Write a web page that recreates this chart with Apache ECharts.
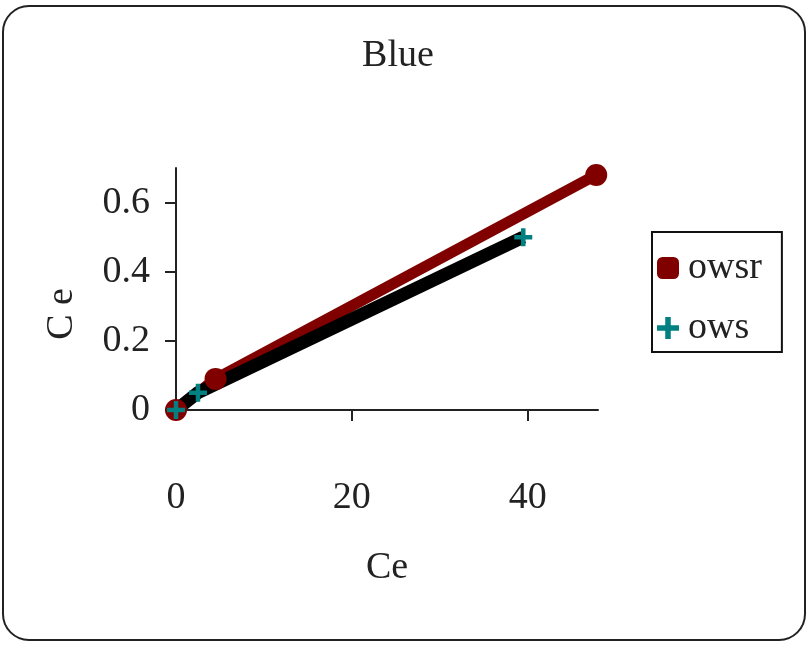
<!DOCTYPE html>
<html>
<head>
<meta charset="utf-8">
<script src="https://cdn.jsdelivr.net/npm/echarts@6/dist/echarts.min.js"></script>
<style>
  html, body { margin: 0; padding: 0; background: #fff; }
  #chart { width: 811px; height: 646px; }
</style>
</head>
<body>
<div id="chart"></div>
<script>
// values
const owsrX = [0, 4.5, 47.8];
const owsrY = [0, 0.09, 0.68];
const owsX = [0, 2.5, 39.5];
const owsY = [0, 0.05, 0.5];
const xTicks = [0, 20, 40];
const yTicks = [0, 0.2, 0.4, 0.6];

const font = 'Liberation Serif';
const fs = 38;
const txt = '#222';
const crossPath = 'path://M3,0 H5 V3 H8 V5 H5 V8 H3 V5 H0 V3 H3 Z';

let chart = echarts.init(document.getElementById('chart'));
chart.setOption({
  backgroundColor: '#fff',
  animation: false,
  title: {
    text: 'Blue',
    left: 393,
    top: 32,
    textAlign: 'center',
    textStyle: { fontFamily: font, fontSize: fs, fontWeight: 'normal', color: txt }
  },
  graphic: [
    {
      type: 'rect',
      shape: { x: 3, y: 6, width: 802, height: 634, r: 26 },
      style: { fill: 'none', stroke: '#222', lineWidth: 2 },
      z: -1
    },
    {
      type: 'text',
      x: 62,
      y: 314,
      rotation: Math.PI / 2,
      style: {
        text: 'C e', fontFamily: font, fontSize: fs, fill: txt,
        align: 'center', verticalAlign: 'middle'
      }
    }
  ],
  legend: {
    orient: 'vertical',
    left: 652,
    top: 232,
    borderColor: '#111',
    borderWidth: 2,
    padding: [17, 20, 5, 5],
    itemWidth: 22,
    itemHeight: 22,
    itemGap: 22,
    textStyle: { fontFamily: font, fontSize: fs, lineHeight: 38, color: txt, padding: [0, 0, 0, 4] },
    data: [
      { name: 'owsr', icon: 'roundRect', itemStyle: { color: '#800000' } },
      { name: 'ows', icon: crossPath, itemStyle: { color: '#008080' } }
    ]
  },
  grid: { left: 176, right: 213, top: 168, bottom: 236 },
  xAxis: {
    type: 'value',
    min: 0,
    max: 48,
    interval: 20,
    name: 'Ce',
    nameLocation: 'middle',
    nameGap: 139,
    nameTextStyle: { fontFamily: font, fontSize: fs, color: txt },
    splitLine: { show: false },
    axisLine: { lineStyle: { color: '#222', width: 2 } },
    axisTick: { show: true, length: 11, lineStyle: { color: '#222', width: 2 }, customValues: xTicks },
    axisLabel: { fontFamily: font, fontSize: fs, color: txt, margin: 69, customValues: xTicks }
  },
  yAxis: {
    type: 'value',
    min: 0,
    max: 0.7,
    interval: 0.2,
    splitLine: { show: false },
    axisLine: { show: true, lineStyle: { color: '#222', width: 2 } },
    axisTick: { show: true, length: 11, lineStyle: { color: '#222', width: 2 }, customValues: yTicks },
    axisLabel: { fontFamily: font, fontSize: fs, color: txt, margin: 26, customValues: yTicks }
  },
  series: [
    {
      name: 'owsr',
      type: 'line',
      data: owsrX.map((x, i) => [x, owsrY[i]]),
      symbol: 'circle',
      symbolSize: 22,
      clip: false,
      itemStyle: { color: '#800000' },
      lineStyle: { color: '#800000', width: 11 }
    },
    {
      name: 'ows',
      type: 'line',
      data: owsX.map((x, i) => [x, owsY[i]]),
      symbol: crossPath,
      symbolSize: 18,
      clip: false,
      itemStyle: { color: '#008080' },
      lineStyle: { color: '#000', width: 13 }
    }
  ]
});
</script>
</body>
</html>
